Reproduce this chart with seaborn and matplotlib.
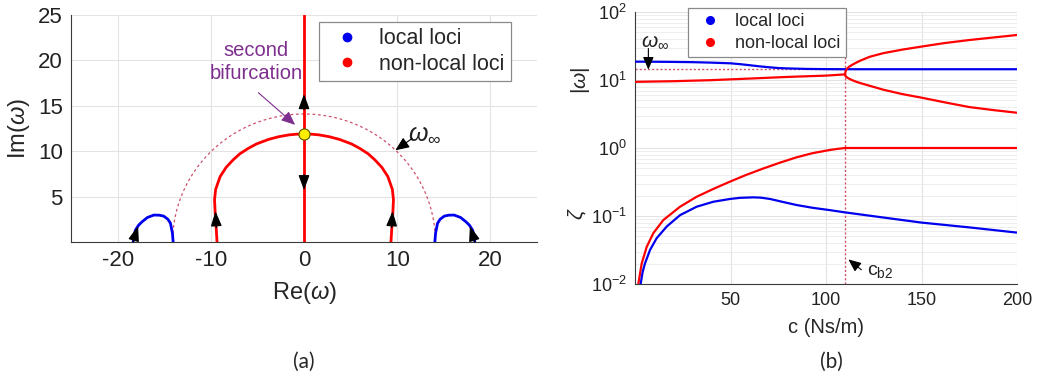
import numpy as np
import pandas as pd
import matplotlib
matplotlib.use('Agg')
import matplotlib.pyplot as plt
import matplotlib.transforms as mtrans
import seaborn as sns
from matplotlib.lines import Line2D
from matplotlib.ticker import LogLocator, NullFormatter

# ---------------- panel (a): loci in the complex plane ----------------
red_arc_re = [-9.33, -9.42, -9.52, -9.6, -9.48, -9.0, -8.37, -7.65, -6.9, -6.0, -5.1, -3.8, -2.7, -1.6, -0.8, 0.0,
              0.8, 1.6, 2.7, 3.8, 5.1, 6.0, 6.9, 7.65, 8.37, 9.0, 9.48, 9.6, 9.52, 9.42, 9.33]
red_arc_im = [0.0, 1.5, 3.0, 4.65, 5.8, 7.2, 8.2, 9.0, 9.7, 10.3, 10.8, 11.3, 11.6, 11.8, 11.87, 11.9,
              11.87, 11.8, 11.6, 11.3, 10.8, 10.3, 9.7, 9.0, 8.2, 7.2, 5.8, 4.65, 3.0, 1.5, 0.0]
imag_axis_re = [0.0, 0.0]
imag_axis_im = [0.0, 25.0]
blue_left_re = [-18.33, -18.25, -18.08, -17.75, -17.36, -16.8, -16.1, -15.5, -15.05, -14.6, -14.33, -14.12, -14.04]
blue_left_im = [0.0, 0.7, 1.32, 1.85, 2.24, 2.7, 2.97, 2.95, 2.85, 2.5, 2.06, 1.0, 0.0]
blue_right_re = [18.33, 18.25, 18.08, 17.75, 17.36, 16.8, 16.1, 15.5, 15.05, 14.6, 14.33, 14.12, 14.04]
blue_right_im = [0.0, 0.7, 1.32, 1.85, 2.24, 2.7, 2.97, 2.95, 2.85, 2.5, 2.06, 1.0, 0.0]
bif_re, bif_im = 0.0, 11.9
omega_inf_a = 14.1

# ---------------- panel (b): |omega| and zeta vs damping ----------------
c_local = [0.5, 10, 20, 30, 40, 50, 55, 60, 65, 70, 75, 80, 90, 100, 110, 130, 150, 175, 200]
w_local = [18.6, 18.55, 18.45, 18.3, 18.0, 17.6, 17.1, 16.5, 15.9, 15.4, 15.0, 14.8, 14.55, 14.45, 14.4,
           14.4, 14.4, 14.4, 14.4]
c_nonlocal = [0.5, 20, 40, 60, 80, 100, 110]
w_nonlocal = [9.4, 9.6, 9.95, 10.5, 11.1, 11.6, 12.1]
c_split = [110.0, 110.1, 110.4, 111.0, 112.0, 113.5, 115.5, 118, 123, 130, 140, 150, 162, 175, 188, 200]
w_split_hi = [12.1, 12.8, 13.7, 14.6, 15.6, 16.6, 17.8, 19.3, 22.0, 24.8, 28.0, 31.0, 34.9, 38.7, 42.3, 45.9]
w_split_lo = [12.1, 11.6, 11.2, 10.9, 10.5, 10.0, 9.5, 9.0, 8.2, 7.2, 6.2, 5.5, 4.7, 4.0, 3.6, 3.3]
c_zeta_nl = [1.5, 1.74, 3.5, 6.1, 9.6, 14.8, 23.6, 32.3, 41, 49.7, 58, 67.2, 76, 84.6, 93, 102, 106, 110, 150, 200]
zeta_nl = [0.009, 0.01, 0.02, 0.035, 0.056, 0.087, 0.137, 0.192, 0.25, 0.32, 0.40, 0.50, 0.61, 0.73, 0.84,
           0.935, 0.97, 1.0, 1.0, 1.0]
c_zeta_l = [2.8, 2.96, 4.0, 5.2, 7.85, 11.3, 16.6, 23.6, 32.3, 41, 49.7, 55, 61.9, 66, 70.7, 77, 84.6, 93, 102,
            110, 130, 150, 175, 200]
zeta_l = [0.009, 0.01, 0.015, 0.02, 0.0316, 0.047, 0.070, 0.103, 0.137, 0.162, 0.178, 0.185, 0.188, 0.186,
          0.178, 0.162, 0.145, 0.132, 0.122, 0.113, 0.095, 0.080, 0.068, 0.057]
omega_inf_b = 14.4
c_b2 = 110

RED = '#FF0000'
BLUE = '#0000EE'
DOT = '#D0506A'
PURPLE = '#7E2F8E'
GRID = '#E3E3E3'
AXC = '#3A3A3A'

sns.set_style('whitegrid')
plt.rcParams['font.family'] = ['Liberation Sans', 'DejaVu Sans']
plt.rcParams['mathtext.fontset'] = 'custom'
plt.rcParams['mathtext.rm'] = 'Liberation Sans'
plt.rcParams['mathtext.it'] = 'Liberation Sans:italic'
plt.rcParams['mathtext.bf'] = 'Liberation Sans:bold'
plt.rcParams['axes.unicode_minus'] = False

fig = plt.figure(figsize=(10.38, 3.81), dpi=100)
ax1 = fig.add_axes([71 / 1038, 139 / 381, 466 / 1038, 227 / 381])
ax2 = fig.add_axes([635 / 1038, 97 / 381, 382 / 1038, 272 / 381])


def style_axes(ax, size):
    for side in ['top', 'right']:
        ax.spines[side].set_visible(False)
    for side in ['left', 'bottom']:
        ax.spines[side].set_color(AXC)
        ax.spines[side].set_linewidth(0.8)
    ax.tick_params(direction='in', length=4, width=0.8, colors=AXC, labelcolor='#222222',
                   labelsize=size, pad=6)
    ax.grid(True, color=GRID, lw=0.8)
    ax.set_axisbelow(True)


def head(ax, tail, tip, scale=15):
    ax.annotate('', xy=tip, xytext=tail,
                arrowprops=dict(arrowstyle='-|>,head_length=0.6,head_width=0.22', color='k',
                                lw=1.0, shrinkA=0, shrinkB=0, mutation_scale=scale), zorder=6)


# ---- panel (a)
style_axes(ax1, 16)
theta = np.linspace(0, np.pi, 200)
ax1.plot(omega_inf_a * np.cos(theta), omega_inf_a * np.sin(theta), color=DOT, lw=0.9,
         ls=(0, (2.2, 2.2)), zorder=2)
sns.lineplot(x=red_arc_re, y=red_arc_im, sort=False, estimator=None, color=RED, lw=2.0, ax=ax1, zorder=3)
sns.lineplot(x=imag_axis_re, y=imag_axis_im, sort=False, estimator=None, color=RED, lw=2.0, ax=ax1, zorder=3)
sns.lineplot(x=blue_left_re, y=blue_left_im, sort=False, estimator=None, color=BLUE, lw=2.0, ax=ax1, zorder=3)
sns.lineplot(x=blue_right_re, y=blue_right_im, sort=False, estimator=None, color=BLUE, lw=2.0, ax=ax1, zorder=3)
ax1.plot([bif_re], [bif_im], 'o', color='#FFEE00', mec='#555500', mew=0.8, ms=8, zorder=7)

head(ax1, (0, 14.6), (0, 16.3))
head(ax1, (0, 7.4), (0, 5.7))
head(ax1, (-9.4, 1.6), (-9.5, 3.4))
head(ax1, (9.4, 1.6), (9.5, 3.4))
head(ax1, (-18.33, 0.0), (-17.8, 1.75))
head(ax1, (18.33, 0.0), (17.8, 1.75))

ax1.set_xlim(-25, 25)
ax1.set_ylim(0, 25)
ax1.set_xticks([-20, -10, 0, 10, 20])
ax1.set_yticks([5, 10, 15, 20, 25])
ax1.set_xlabel(r'Re($\omega$)', fontsize=17, labelpad=6)
ax1.set_ylabel(r'Im($\omega$)', fontsize=17, labelpad=4)

ax1.text(-5.1, 19.8, 'second\nbifurcation', color=PURPLE, fontsize=14.5, ha='center', va='center',
         linespacing=1.25)
ax1.annotate('', xy=(-0.95, 12.9), xytext=(-4.9, 16.45),
             arrowprops=dict(arrowstyle='-|>,head_length=0.7,head_width=0.3', color=PURPLE, lw=0.8,
                             shrinkA=0, shrinkB=0, mutation_scale=12))
ax1.text(12.9, 12.0, r'$\omega_{\infty}$', fontsize=18, ha='center', va='center', color='#222222')
ax1.annotate('', xy=(9.8, 10.1), xytext=(11.6, 11.4),
             arrowprops=dict(arrowstyle='-|>,head_length=0.7,head_width=0.3', color='k', lw=0.8,
                             shrinkA=0, shrinkB=0, mutation_scale=12))


def loci_handles(ms):
    return [Line2D([], [], marker='o', ls='none', color=BLUE, ms=ms, label='local loci'),
            Line2D([], [], marker='o', ls='none', color=RED, ms=ms, label='non-local loci')]


leg1 = ax1.legend(handles=loci_handles(6), loc='upper right', bbox_to_anchor=(0.944, 0.969), fontsize=15.5,
                  frameon=True, fancybox=False, framealpha=1, edgecolor='#8A8A8A', handletextpad=0.5,
                  borderpad=0.3, labelspacing=0.2, handlelength=2.0, borderaxespad=0)
leg1.get_frame().set_linewidth(0.9)

# ---- panel (b)
style_axes(ax2, 13)
ax2.set_yscale('log')
ax2.yaxis.set_major_locator(LogLocator(base=10, numticks=10))
ax2.yaxis.set_minor_locator(LogLocator(base=10, subs=np.arange(2, 10), numticks=20))
ax2.yaxis.set_minor_formatter(NullFormatter())
ax2.grid(True, which='minor', axis='y', color='#EBEBEB', lw=0.6)
ax2.tick_params(which='minor', direction='in', length=2, colors=AXC)

ax2.axvline(c_b2, color=DOT, lw=1.0, ls=(0, (1.5, 1.5)), zorder=2)
ax2.plot([0, c_b2], [omega_inf_b, omega_inf_b], color=DOT, lw=1.0, ls=(0, (1.5, 1.5)), zorder=2)

sns.lineplot(x=c_local, y=w_local, estimator=None, color=BLUE, lw=1.6, ax=ax2, zorder=3)
sns.lineplot(x=c_nonlocal, y=w_nonlocal, estimator=None, color=RED, lw=1.6, ax=ax2, zorder=3)
sns.lineplot(x=c_split, y=w_split_hi, estimator=None, color=RED, lw=1.6, ax=ax2, zorder=3)
sns.lineplot(x=c_split, y=w_split_lo, estimator=None, color=RED, lw=1.6, ax=ax2, zorder=3)
sns.lineplot(x=c_zeta_nl, y=zeta_nl, estimator=None, color=RED, lw=1.6, ax=ax2, zorder=3)
sns.lineplot(x=c_zeta_l, y=zeta_l, estimator=None, color=BLUE, lw=1.6, ax=ax2, zorder=3)

ax2.set_xlim(0, 200)
ax2.set_ylim(1e-2, 1e2)
ax2.set_xticks([50, 100, 150, 200])
ax2.set_xlabel('c (Ns/m)', fontsize=14.5, labelpad=6)
ax2.set_ylabel('')
blend = mtrans.blended_transform_factory(ax2.transAxes, ax2.transData)
ax2.text(-0.142, 10, r'$|\omega|$', transform=blend, rotation=90, ha='center', va='center', fontsize=15)
ax2.text(-0.152, 0.107, r'$\zeta$', transform=blend, rotation=90, ha='center', va='center', fontsize=15)

ax2.text(10.5, 37, r'$\omega_{\infty}$', fontsize=15, ha='center', va='center', color='#222222')
ax2.annotate('', xy=(7, 14.2), xytext=(7, 29),
             arrowprops=dict(arrowstyle='-|>,head_length=0.7,head_width=0.3', color='k', lw=0.8,
                             shrinkA=0, shrinkB=0, mutation_scale=11))
ax2.text(121.5, 0.0134, r'c$_{\mathregular{b2}}$', fontsize=14, ha='left', va='baseline', color='#222222')
ax2.annotate('', xy=(111.7, 0.023), xytext=(118.5, 0.0162),
             arrowprops=dict(arrowstyle='-|>,head_length=0.7,head_width=0.3', color='k', lw=0.8,
                             shrinkA=0, shrinkB=0, mutation_scale=11))

leg2 = ax2.legend(handles=loci_handles(5.5), loc='upper left', bbox_to_anchor=(0.139, 1.015), fontsize=13,
                  frameon=True, fancybox=False, framealpha=1, edgecolor='#8A8A8A', handletextpad=0.5,
                  borderpad=0.3, labelspacing=0.25, handlelength=1.8, borderaxespad=0)
leg2.get_frame().set_linewidth(0.9)

fig.text(304 / 1038, 1 - 362 / 381, '(a)', ha='center', va='center', fontsize=15, family='Lato')
fig.text(831 / 1038, 1 - 362 / 381, '(b)', ha='center', va='center', fontsize=15, family='Lato')

fig.savefig('out.png', dpi=100, facecolor='white')
